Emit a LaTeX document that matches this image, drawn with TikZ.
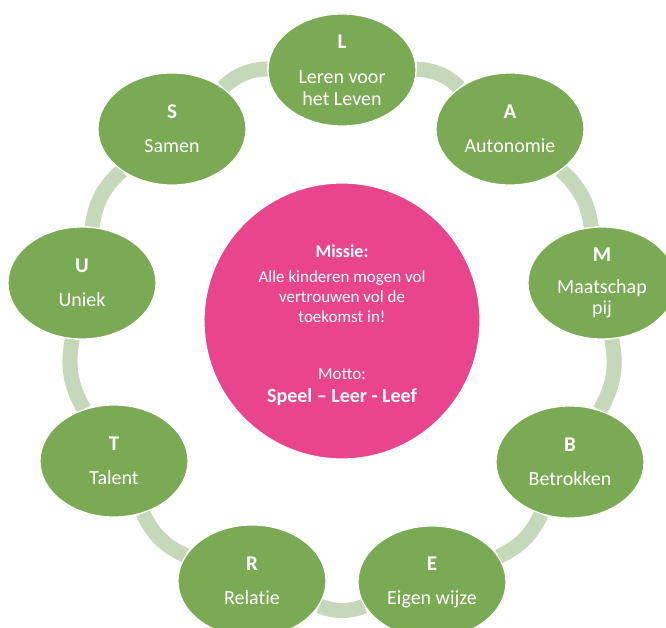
\documentclass[tikz,border=0pt]{standalone}
\usepackage{fontspec}
\setmainfont{Carlito}[Ligatures=NoCommon]
\usetikzlibrary{shapes.geometric,backgrounds}
\definecolor{petalgreen}{RGB}{122,170,84}
\definecolor{ringgreen}{RGB}{197,216,185}
\definecolor{hubpink}{RGB}{232,69,140}
\newcommand{\petalletter}[1]{{\bfseries\fontsize{21}{22}\selectfont #1}}
\begin{document}
\begin{tikzpicture}[x=1pt,y=-1pt,
  petal/.style={ellipse, minimum width=148pt, minimum height=112pt, inner sep=0pt,
    fill=petalgreen, draw=white, line width=1.2pt, text=white, align=center,
    font=\fontsize{20}{22}\selectfont},
  hubdisc/.style={circle, minimum size=276pt, inner sep=0pt, fill=hubpink, draw=white, line width=1.2pt},
  hubtext/.style={text=white, align=center, inner sep=0pt, font=\fontsize{17}{20}\selectfont},
  ringlink/.style={draw=ringgreen, line width=15pt, bend left=20}
]
\useasboundingbox (0,0) rectangle (666,628);

\node[hubdisc] (hub) at (342,321) {};
\node[hubtext] (mission) at (342,325.5) {{\bfseries\fontsize{18}{20}\selectfont Missie:}\\[5pt]
  Alle kinderen mogen vol\\ vertrouwen vol de\\ toekomst in!\\[37pt]
  Motto:\\[3pt] {\bfseries\fontsize{20}{20}\selectfont Speel – Leer - Leef}};

\node[petal] (L) at (342,70) {\petalletter{L}\\[13pt] Leren voor\\ het Leven};
\node[petal] (A) at (510,129) {\petalletter{A}\\[12pt] Autonomie};
\node[petal] (M) at (602,283) {\petalletter{M}\\[10pt] Maatschap\\[-1pt] pij};
\node[petal] (B) at (570,462) {\petalletter{B}\\[12pt] Betrokken};
\node[petal] (E) at (432,582) {\petalletter{E}\\[12pt] Eigen wijze};
\node[petal] (R) at (252,581) {\petalletter{R}\\[12pt] Relatie};
\node[petal] (T) at (114,461) {\petalletter{T}\\[12pt] Talent};
\node[petal] (U) at (82,283) {\petalletter{U}\\[12pt] Uniek};
\node[petal] (S) at (172,129) {\petalletter{S}\\[12pt] Samen};

\begin{pgfonlayer}{background}
  \draw[ringlink] (L) to (A);
  \draw[ringlink] (A) to (M);
  \draw[ringlink] (M) to (B);
  \draw[ringlink] (B) to (E);
  \draw[ringlink] (E) to (R);
  \draw[ringlink] (R) to (T);
  \draw[ringlink] (T) to (U);
  \draw[ringlink] (U) to (S);
  \draw[ringlink] (S) to (L);
\end{pgfonlayer}
\end{tikzpicture}
\end{document}
